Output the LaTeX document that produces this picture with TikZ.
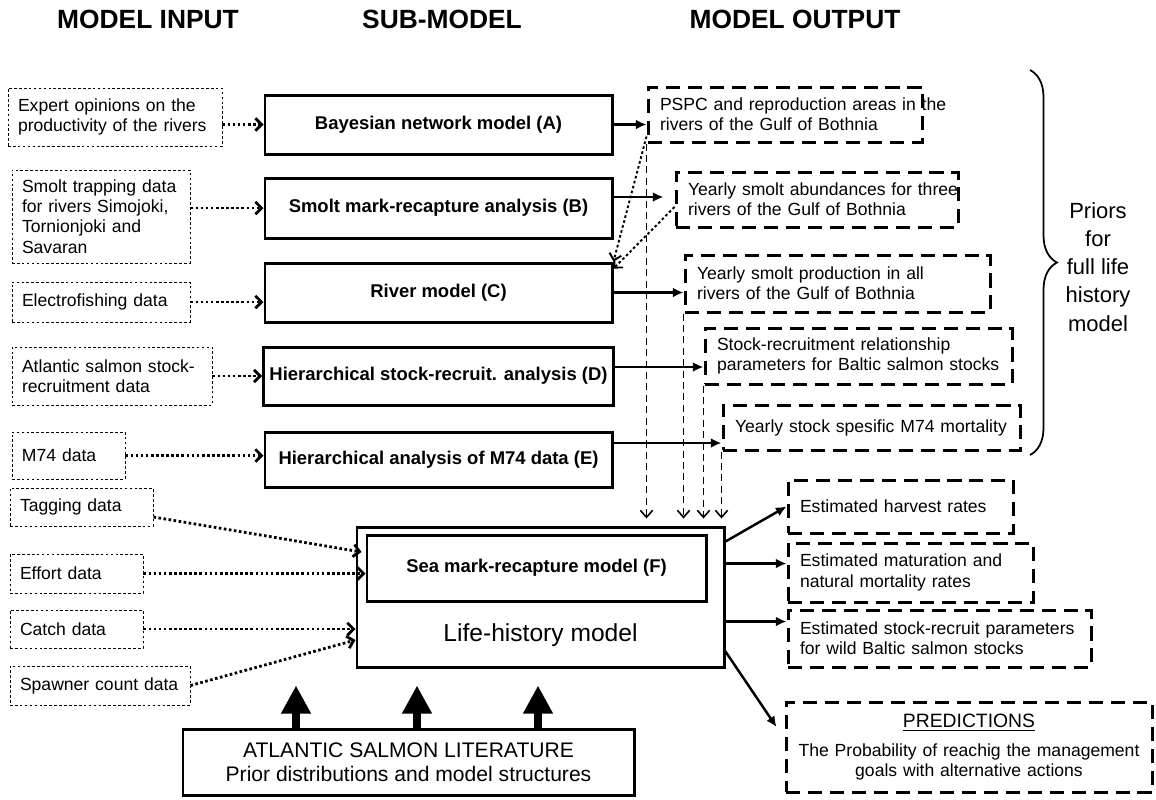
\documentclass[tikz,border=0pt]{standalone}
\usepackage{fontspec}
\setmainfont{Liberation Sans}
\usepackage{tikz}
\usetikzlibrary{arrows.meta,positioning,calc,decorations.pathreplacing}

\begin{document}
\begin{tikzpicture}[
    header/.style={font=\fontsize{15}{18}\selectfont\bfseries, anchor=base},
    inbox/.style={draw, line width=0.5pt, dash pattern=on 1.5pt off 1.3pt, inner xsep=0.2cm, inner ysep=0pt, align=left, font=\fontsize{10}{11.5}\selectfont},
    subbox/.style={draw, line width=1.7pt, minimum width=6.94cm, align=center, font=\fontsize{10.5}{12}\selectfont\bfseries},
    outbox/.style={draw, line width=1.7pt, dash pattern=on 8pt off 4.5pt, inner xsep=0.24cm, inner ysep=0pt, align=left, font=\fontsize{10}{11.5}\selectfont},
    dotarrow/.style={line width=1.6pt, dash pattern=on 1.5pt off 1.4pt, -{Straight Barb[length=3.5pt,width=7pt]}},
    solidarrow/.style={line width=1.4pt, -{Latex[length=6pt,width=5.5pt]}},
    dasharrow/.style={line width=0.9pt, dash pattern=on 4pt off 2.5pt, -{Straight Barb[length=4pt,width=7pt]}},
    litarrow/.style={line width=0.16cm, -{Triangle[length=0.56cm,width=0.56cm]}}
]
\useasboundingbox (0,0) rectangle (23.12,-15.98);

% Column headers
\node[header] (hin) at (2.96,-0.56) {MODEL INPUT};
\node[header] (hsub) at (8.84,-0.56) {SUB-MODEL};
\node[header] (hout) at (15.90,-0.56) {MODEL OUTPUT};

% Model input
\node[inbox, minimum width=4.28cm, minimum height=1.16cm, text width=3.88cm] (expert) at (2.30,-2.34) {Expert opinions on the\\\mbox{productivity of the rivers}};
\node[inbox, minimum width=3.56cm, minimum height=1.86cm, text width=3.16cm] (trap) at (2.02,-4.33) {Smolt trapping data\\\mbox{for rivers Simojoki,}\\Tornionjoki and\\Savaran};
\node[inbox, minimum width=3.56cm, minimum height=0.80cm, text width=3.16cm] (efish) at (2.02,-6.04) {Electrofishing data};
\node[inbox, minimum width=4.00cm, minimum height=1.16cm, text width=3.60cm] (srdata) at (2.24,-7.52) {\mbox{Atlantic salmon stock-}\\recruitment data};
\node[inbox, minimum width=2.26cm, minimum height=0.94cm, text width=1.86cm] (mdata) at (1.37,-9.11) {M74 data};
\node[inbox, minimum width=2.86cm, minimum height=0.76cm, text width=2.46cm] (tag) at (1.63,-10.14) {Tagging data};
\node[inbox, minimum width=2.66cm, minimum height=0.78cm, text width=2.26cm] (effort) at (1.53,-11.47) {Effort data};
\node[inbox, minimum width=2.66cm, minimum height=0.76cm, text width=2.26cm] (catch) at (1.53,-12.58) {Catch data};
\node[inbox, minimum width=3.60cm, minimum height=0.78cm, text width=3.20cm] (spawn) at (2.00,-13.71) {\mbox{Spawner count data}};

% Sub-models
\node[subbox, minimum height=1.18cm] (bnm) at (8.77,-2.49) {Bayesian network model (A)};
\node[subbox, minimum height=1.20cm] (smr) at (8.77,-4.16) {Smolt mark-recapture analysis (B)};
\node[subbox, minimum height=1.18cm] (river) at (8.77,-5.85) {River model (C)};
\node[subbox, minimum height=1.16cm] (hsr) at (8.77,-7.52) {Hierarchical stock-recruit. analysis (D)};
\node[subbox, minimum height=1.10cm] (hm74) at (8.77,-9.19) {Hierarchical analysis of M74 data (E)};

% Model output
\node[outbox, minimum width=5.48cm, minimum height=1.10cm, text width=5.00cm] (pspc) at (15.70,-2.29) {\mbox{PSPC and reproduction areas in the}\\rivers of the Gulf of Bothnia};
\node[outbox, minimum width=5.64cm, minimum height=1.10cm, text width=5.16cm] (abund) at (16.34,-3.99) {\mbox{Yearly smolt abundances for three}\\rivers of the Gulf of Bothnia};
\node[outbox, minimum width=6.10cm, minimum height=1.14cm, text width=5.62cm] (prod) at (16.75,-5.67) {Yearly smolt production in all\\rivers of the Gulf of Bothnia};
\node[outbox, minimum width=6.14cm, minimum height=1.12cm, text width=5.66cm] (srrel) at (17.17,-7.12) {Stock-recruitment relationship\\\mbox{parameters for Baltic salmon stocks}};
\node[outbox, minimum width=5.94cm, minimum height=0.90cm, text width=5.46cm] (mort) at (17.43,-8.55) {\mbox{Yearly stock spesific M74 mortality}};
\node[outbox, minimum width=4.50cm, minimum height=1.06cm, text width=4.02cm] (harv) at (18.01,-10.13) {Estimated harvest rates};
\node[outbox, minimum width=4.90cm, minimum height=1.18cm, text width=4.42cm] (matur) at (18.21,-11.45) {Estimated maturation and\\natural mortality rates};
\node[outbox, minimum width=6.06cm, minimum height=1.14cm, text width=5.58cm] (srpar) at (18.79,-12.77) {\mbox{Estimated stock-recruit parameters}\\for wild Baltic salmon stocks};
\node[outbox, align=center, minimum width=7.32cm, minimum height=1.80cm, text width=6.84cm] (pred) at (19.38,-14.94) {{\fontsize{11}{13}\selectfont\underline{PREDICTIONS}}\\[5pt]\mbox{The Probability of reachig the management}\\goals with alternative actions};

% Life-history model
\node[draw, line width=1.7pt, minimum width=7.34cm, minimum height=2.80cm] (lh) at (10.81,-11.94) {};
\node[subbox, minimum width=6.78cm, minimum height=1.32cm] (sea) at (10.73,-11.36) {Sea mark-recapture model (F)};
\node[font=\fontsize{14}{16}\selectfont] (lhname) at (10.81,-12.70) {Life-history model};

% Literature
\node[draw, line width=1.7pt, minimum width=9.02cm, minimum height=1.32cm, align=center, font=\fontsize{12}{13.5}\selectfont] (lit) at (8.17,-15.24) {ATLANTIC SALMON LITERATURE\\Prior distributions and model structures};

% Priors brace
\coordinate (btop) at (20.60,-1.40);
\coordinate (bbot) at (20.60,-9.10);
\draw[line width=1pt, decorate, decoration={brace, amplitude=0.54cm}] (btop) -- (bbot);
\node[font=\fontsize{12.5}{16}\selectfont, align=center] (priors) at (21.96,-5.34) {Priors\\for\\full life\\history\\model};

% Input arrows
\draw[dotarrow] (expert.east |- bnm.west) -- (bnm.west);
\draw[dotarrow] (trap.east |- smr.west) -- (smr.west);
\draw[dotarrow] (efish.east) -- (efish.east -| river.west);
\draw[dotarrow] (srdata.east) -- (srdata.east -| hsr.west);
\draw[dotarrow] (mdata.east) -- (mdata.east -| hm74.west);
\draw[dotarrow] ([yshift=-0.2cm]tag.east) -- ([xshift=-0.08cm,yshift=0.32cm]sea.west);
\draw[dotarrow] (effort.east) -- (effort.east -| sea.west);
\draw[dotarrow] (catch.east) -- (catch.east -| lh.west);
\draw[dotarrow] (spawn.east) -- ([yshift=-0.86cm]lh.west);

% Sub-model outputs
\draw[solidarrow] (bnm.east) -- (bnm.east -| pspc.west);
\draw[solidarrow, shorten >=0.22cm] ([yshift=0.22cm]smr.east) -- ([yshift=0.22cm]smr.east -| abund.west);
\draw[solidarrow] (river.east) -- (river.east -| prod.west);
\draw[solidarrow] ([yshift=0.18cm]hsr.east) -- ([yshift=0.18cm]hsr.east -| srrel.west);
\draw[solidarrow] ([yshift=0.33cm]hm74.east) -- ([yshift=0.33cm]hm74.east -| mort.west);

% Back to the river model
\draw[dotarrow, line width=1.1pt] ([yshift=0.14cm]pspc.south west) -- (river.north east);
\draw[dotarrow, line width=1.1pt] ([yshift=-0.15cm]abund.west) -- ([yshift=-0.14cm]river.north east);

% Priors into the life-history model
\foreach \o in {pspc, prod, srrel, mort} {
    \draw[dasharrow, shorten >=0.14cm] (\o.south west) -- (\o.south west |- lh.north);
}

% Life-history outputs
\draw[solidarrow] ([yshift=-0.32cm]lh.north east) -- (harv.west);
\draw[solidarrow] ([yshift=0.18cm]lh.east |- matur.west) -- ([yshift=0.18cm]matur.west);
\draw[solidarrow] ([yshift=0.34cm]lh.east |- srpar.west) -- ([yshift=0.34cm]srpar.west);
\draw[solidarrow] ([yshift=0.34cm]lh.south east) -- ([xshift=-0.16cm,yshift=0.4cm]pred.west);

% Literature arrows
\foreach \x in {5.92, 8.34, 10.76} {
    \draw[litarrow, shorten >=0.34cm] (\x,0 |- lit.north) -- (\x,0 |- lh.south);
}

\end{tikzpicture}
\end{document}
